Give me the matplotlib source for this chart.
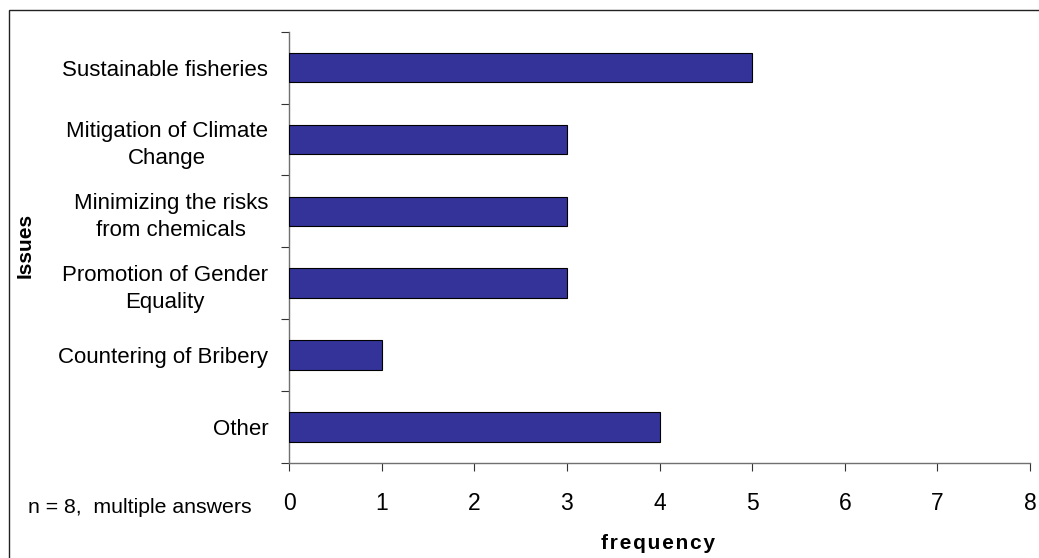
import matplotlib
matplotlib.use("Agg")
import matplotlib.pyplot as plt
from matplotlib.patches import Rectangle

plt.rcParams['font.family'] = ['Liberation Sans', 'DejaVu Sans']

categories = [
    "Sustainable fisheries",
    "Mitigation of Climate\nChange",
    "Minimizing the risks\nfrom chemicals",
    "Promotion of Gender\nEquality",
    "Countering of Bribery",
    "Other",
]
frequency = [5, 3, 3, 3, 1, 4]
x_ticks = [0, 1, 2, 3, 4, 5, 6, 7, 8]

W, H = 1039, 558
fig = plt.figure(figsize=(W / 100, H / 100), dpi=100)
fig.patch.set_facecolor("white")

# frame around the whole chart area
fig.patches.append(Rectangle((9 / W, -0.05), 1.2, 1 - 9.5 / H + 0.05,
                             transform=fig.transFigure, fill=False,
                             edgecolor="#222222", linewidth=1.0))

left, right, top, bottom = 289, 1030, 31.7, 462.7
ax = fig.add_axes([left / W, 1 - bottom / H, (right - left) / W, (bottom - top) / H])

pos = list(range(len(categories)))
ax.barh(pos, frequency, height=0.41, color="#333399",
        edgecolor="black", linewidth=0.8, zorder=3)

ax.set_xlim(0, 8)
ax.set_ylim(len(categories) - 0.5, -0.5)

for side in ("top", "right"):
    ax.spines[side].set_visible(False)
for side in ("left", "bottom"):
    ax.spines[side].set_color("#707070")
    ax.spines[side].set_linewidth(1.0)

ax.set_xticks(x_ticks)
ax.set_xticklabels([str(v) for v in x_ticks], fontsize=16.5)
ax.tick_params(axis="x", direction="out", length=6, width=0.8,
               color="#333333", pad=15)

# category labels sit between boundary ticks
ax.set_yticks(pos)
ax.set_yticklabels(categories, fontsize=16, multialignment="center",
                   linespacing=1.4)
ax.set_yticks([p - 0.5 for p in pos] + [len(categories) - 0.5], minor=True)
ax.tick_params(axis="y", which="major", length=0, pad=15)
ax.tick_params(axis="y", which="minor", direction="out", length=6,
               width=0.8, color="#333333")

fig.text(25 / W, 1 - 245 / H, "Issues", rotation=90, fontsize=15,
         fontweight="bold", ha="center", va="center")
fig.text(658 / W, 1 - 549 / H, "\u200a".join("frequency"),
         fontsize=15, fontweight="bold", ha="center", va="baseline")
fig.text(28 / W, 1 - 513 / H, "n = 8,  multiple answers", fontsize=15.3,
         ha="left", va="baseline")

fig.savefig("out.png", dpi=100, facecolor="white")
